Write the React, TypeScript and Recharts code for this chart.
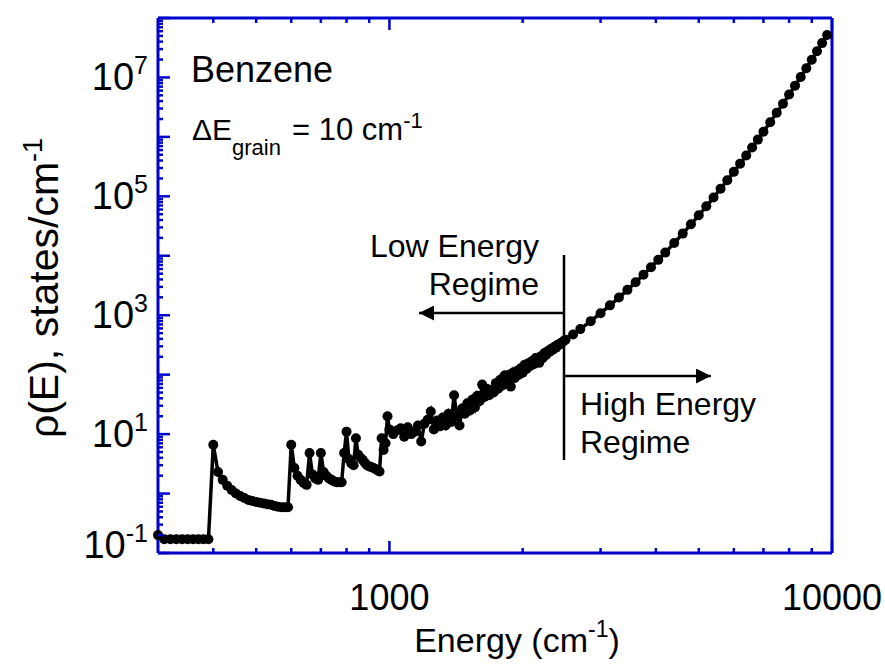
import React from "react";
import { LineChart, Line, XAxis, YAxis } from "recharts";

// density of states, benzene (energy in cm-1, rho in states/cm-1)
const lowEnergy = [
  300, 310, 320, 330, 340, 350, 360, 370, 380, 390,
  400, 410, 420, 430, 440, 450, 460, 470, 480, 490,
  500, 510, 520, 530, 540, 550, 560, 570, 580, 590,
  600, 610, 620, 630, 640, 650, 660, 670, 680, 690,
  700, 710, 720, 730, 740, 750, 760, 770, 780, 790,
  800, 810, 820, 830, 840, 850, 860, 870, 880, 890,
  900, 910, 920, 930, 940, 950, 960, 970, 980, 990,
];
const lowDensity = [
  0.2, 0.17, 0.17, 0.17, 0.17, 0.17, 0.17, 0.17, 0.17, 0.17,
  6.6, 2.3, 1.7, 1.35, 1.15, 1.0, 0.91, 0.84, 0.78, 0.75,
  0.72, 0.7, 0.68, 0.66, 0.65, 0.62, 0.6, 0.59, 0.59, 0.59,
  6.6, 2.7, 2.0, 1.7, 1.5, 1.4, 4.8, 2.1, 1.8, 1.7,
  4.8, 2.3, 2.0, 1.8, 1.7, 1.6, 1.55, 1.55, 1.55, 4.8,
  11, 3.8, 3.2, 3.0, 8.5, 4.5, 4.0, 3.7, 3.3, 3.0,
  2.85, 2.8, 2.7, 2.6, 2.45, 2.35, 8.5, 5.4, 7, 20,
];

const midEnergy = [
  1000, 1020, 1040, 1060, 1080, 1100, 1120, 1140, 1160, 1180,
  1200, 1220, 1240, 1260, 1280, 1300, 1320, 1340, 1360, 1380,
  1400, 1420, 1440, 1460, 1480, 1500, 1520, 1540, 1560, 1580,
  1600, 1620, 1640, 1660, 1680, 1700, 1720, 1740, 1760, 1780,
  1800, 1820, 1840, 1860, 1880, 1900, 1920, 1940, 1960, 1980,
  2000, 2020, 2040, 2060, 2080, 2100, 2120, 2140, 2160, 2180,
  2200, 2220, 2240, 2260, 2280, 2300, 2320, 2340, 2360, 2380,
  2400, 2420, 2440, 2460, 2480,
];
const midDensity = [
  12, 10, 11.5, 12.5, 9, 13, 10, 11, 14, 7.5,
  15, 17.4, 24, 12, 17, 13.5, 19, 14, 22, 16,
  45, 20, 14, 27, 22, 33, 25, 38, 28, 44,
  36, 68, 42, 58, 45, 56, 50, 72, 58, 82,
  66, 97, 78, 100, 63, 108, 88, 115, 100, 128,
  108, 147, 125, 155, 140, 170, 150, 190, 168, 158,
  205, 190, 231, 215, 250, 240, 272, 262, 295, 285,
  320, 318, 340, 352, 372,
];

const highEnergy = [
  2500, 2600, 2700, 2850, 3000, 3150, 3300, 3450, 3600, 3750,
  3900, 4050, 4200, 4400, 4600, 4800, 5000, 5200, 5400, 5600,
  5800, 6000, 6200, 6400, 6600, 6800, 7000, 7250, 7500, 7750,
  8000, 8250, 8500, 8750, 9000, 9250, 9500, 9750,
];
const highDensity = [
  386, 475, 584, 795, 1080, 1465, 1980, 2670, 3590, 4810,
  6420, 8540, 11300, 16400, 23600, 33800, 48000, 67900, 95500, 134000,
  186000, 258000, 355000, 486000, 663000, 900000, 1.22e6, 1.76e6, 2.54e6, 3.62e6,
  5.15e6, 7.28e6, 1.02e7, 1.43e7, 1.99e7, 2.75e7, 3.78e7, 5.18e7,
];

const xMajorTicks = [1000, 10000];
const xMinorTicks = [400, 500, 600, 700, 800, 900, 2000, 3000, 4000, 5000, 6000, 7000, 8000, 9000];
const yDecades = [0.1, 1, 10, 100, 1e3, 1e4, 1e5, 1e6, 1e7, 1e8];
const yMinorSteps = [2, 3, 4, 5, 6, 7, 8, 9];
const yLabelExponents = [-1, 1, 3, 5, 7];

const data = [
  ...lowEnergy.map((e, i) => ({ energy: e, rho: lowDensity[i] })),
  ...midEnergy.map((e, i) => ({ energy: e, rho: midDensity[i] })),
  ...highEnergy.map((e, i) => ({ energy: e, rho: highDensity[i] })),
];

const xTicks = [...xMinorTicks, ...xMajorTicks].sort((a, b) => a - b);
const yMinorTicks = yDecades.slice(0, -1).flatMap((d) => yMinorSteps.map((s) => +(d * s).toPrecision(3)));
const yTicks = [...yDecades, ...yMinorTicks].sort((a, b) => a - b);

const W = 885;
const H = 665;
const LEFT = 158;
const RIGHT = 832;
const TOP = 18;
const BOTTOM = 553;
const BLUE = "#0000cc";
const FONT = "'Liberation Sans', Arial, Helvetica, sans-serif";

const isDecade = (v: number) => yDecades.some((d) => Math.abs(d - v) / d < 1e-6);

const BottomTick = ({ x, payload }: any) => {
  const major = xMajorTicks.includes(payload.value);
  return (
    <g>
      <line x1={x} x2={x} y1={BOTTOM} y2={BOTTOM - (major ? 12 : 5)} stroke={BLUE} strokeWidth={2.5} />
      {major && (
        <text x={x} y={610} textAnchor="middle" fontSize={36} fontFamily={FONT} fill="#000">
          {payload.value}
        </text>
      )}
    </g>
  );
};

const TopTick = ({ x, payload }: any) => {
  const major = xMajorTicks.includes(payload.value);
  return <line x1={x} x2={x} y1={TOP} y2={TOP + (major ? 12 : 5)} stroke={BLUE} strokeWidth={2.5} />;
};

const LeftTick = ({ y, payload }: any) => {
  const v = payload.value;
  const major = isDecade(v);
  const exp = Math.round(Math.log10(v));
  const labelled = major && yLabelExponents.includes(exp);
  // the lowest label sits a little above its tick, clear of the x labels
  const base = exp < 0 ? y + 5 : y + 13;
  return (
    <g>
      <line x1={LEFT} x2={LEFT + (major ? 12 : 5)} y1={y} y2={y} stroke={BLUE} strokeWidth={2.5} />
      {labelled && (
        <text x={148} y={base} textAnchor="end" fontSize={38} fontFamily={FONT} fill="#000">
          10
          <tspan dy={-16} fontSize={25}>
            {exp}
          </tspan>
        </text>
      )}
    </g>
  );
};

const RightTick = ({ y, payload }: any) => {
  const major = isDecade(payload.value);
  return <line x1={RIGHT} x2={RIGHT - (major ? 12 : 5)} y1={y} y2={y} stroke={BLUE} strokeWidth={2.5} />;
};

export default function App() {
  return (
    <div style={{ position: "absolute", left: 0, top: 0, width: W, height: H, background: "#fff" }}>
      <LineChart
        width={W}
        height={H}
        data={data}
        margin={{ top: TOP - 5, right: W - RIGHT - 5, bottom: H - BOTTOM - 60, left: LEFT - 80 }}
      >
        <XAxis
          xAxisId="bottom"
          dataKey="energy"
          type="number"
          scale="log"
          domain={[300, 10000]}
          ticks={xTicks}
          interval={0}
          height={60}
          tickLine={false}
          axisLine={{ stroke: BLUE, strokeWidth: 3 }}
          tick={<BottomTick />}
        />
        <XAxis
          xAxisId="top"
          orientation="top"
          dataKey="energy"
          type="number"
          scale="log"
          domain={[300, 10000]}
          ticks={xTicks}
          interval={0}
          height={5}
          tickLine={false}
          axisLine={{ stroke: BLUE, strokeWidth: 3 }}
          tick={<TopTick />}
        />
        <YAxis
          yAxisId="left"
          type="number"
          scale="log"
          domain={[0.1, 1e8]}
          ticks={yTicks}
          interval={0}
          width={80}
          tickLine={false}
          axisLine={{ stroke: BLUE, strokeWidth: 3 }}
          tick={<LeftTick />}
        />
        <YAxis
          yAxisId="right"
          orientation="right"
          type="number"
          scale="log"
          domain={[0.1, 1e8]}
          ticks={yTicks}
          interval={0}
          width={5}
          tickLine={false}
          axisLine={{ stroke: BLUE, strokeWidth: 3 }}
          tick={<RightTick />}
        />
        <Line
          xAxisId="bottom"
          yAxisId="left"
          dataKey="rho"
          type="linear"
          stroke="#000"
          strokeWidth={3.5}
          dot={{ r: 5, fill: "#000", stroke: "#000", strokeWidth: 0 }}
          isAnimationActive={false}
        />
      </LineChart>
      <svg
        width={W}
        height={H}
        style={{ position: "absolute", left: 0, top: 0, pointerEvents: "none" }}
        fontFamily={FONT}
      >
        <defs>
          <marker id="arrow" viewBox="0 0 10 10" refX="10" refY="5" markerWidth="7" markerHeight="6" orient="auto-start-reverse">
            <path d="M0,0 L10,5 L0,10 z" fill="#000" />
          </marker>
        </defs>
        <text x={191} y={82} fontSize={36} fill="#000">Benzene</text>
        <text x={192} y={140} fontSize={30} fill="#000">
          ΔE
          <tspan dy={15} fontSize={22}>grain</tspan>
        </text>
        <text x={292} y={140} fontSize={31} fill="#000">
          = 10 cm
          <tspan dy={-12} fontSize={22}>-1</tspan>
        </text>
        <text x={539} y={257} textAnchor="end" fontSize={32} fill="#000">Low Energy</text>
        <text x={539} y={295} textAnchor="end" fontSize={32} fill="#000">Regime</text>
        <line x1={564} y1={255} x2={564} y2={460} stroke="#000" strokeWidth={2.5} />
        <line x1={564} y1={313} x2={419} y2={313} stroke="#000" strokeWidth={2.5} markerEnd="url(#arrow)" />
        <line x1={564} y1={376} x2={711} y2={376} stroke="#000" strokeWidth={2.5} markerEnd="url(#arrow)" />
        <text x={580} y={415} fontSize={32} fill="#000">High Energy</text>
        <text x={580} y={453} fontSize={32} fill="#000">Regime</text>
        <text x={517} y={652} textAnchor="middle" fontSize={34} fill="#000">
          Energy (cm
          <tspan dy={-15} fontSize={23}>-1</tspan>
          <tspan dy={15}>)</tspan>
        </text>
        <text transform="rotate(-90)" x={-288} y={58} textAnchor="middle" fontSize={41} fill="#000">
          ρ(E), states/cm
          <tspan dy={-16} fontSize={27}>-1</tspan>
        </text>
      </svg>
    </div>
  );
}
